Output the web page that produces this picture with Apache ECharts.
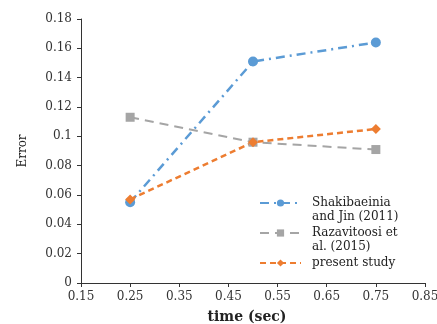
<!DOCTYPE html>
<html>
<head>
<meta charset="utf-8">
<script src="https://cdn.jsdelivr.net/npm/echarts@6/dist/echarts.min.js"></script>
<style>
  html, body { margin: 0; padding: 0; background: #fff; }
  #main { width: 437px; height: 324px; }
</style>
</head>
<body>
<div id="main"></div>
<script>
var timeSec = [0.25, 0.5, 0.75];
var shakibaeinia = [0.055, 0.151, 0.164];
var razavitoosi = [0.113, 0.096, 0.091];
var presentStudy = [0.057, 0.096, 0.105];

function pairs(xs, ys) {
  return xs.map(function (x, i) { return [x, ys[i]]; });
}

var serif = '"DejaVu Serif", "Liberation Serif", serif';

var chart = echarts.init(document.getElementById('main'));
var option = {
  animation: false,
  textStyle: { fontFamily: serif },
  grid: { left: 81, right: 12, top: 19, bottom: 41, outerBoundsMode: 'none' },
  legend: {
    orient: 'vertical',
    left: 259,
    top: 182,
    padding: 0,
    itemWidth: 41,
    itemHeight: 9,
    itemGap: -12,
    // blank lines keep the marker level with the first text line
    formatter: function (name) {
      return name.indexOf('\n') >= 0 ? '\n' + name : '\n' + name + '\n';
    },
    textStyle: {
      fontFamily: serif, fontSize: 12, color: '#222', lineHeight: 14,
      padding: [0, 0, 0, 6]
    },
    data: ['Shakibaeinia\nand Jin (2011)', 'Razavitoosi et\nal. (2015)', 'present study']
  },
  xAxis: {
    type: 'value',
    min: 0.15,
    max: 0.85,
    interval: 0.1,
    name: 'time (sec)',
    nameLocation: 'middle',
    nameGap: 27,
    nameTextStyle: { fontFamily: serif, fontSize: 14, fontWeight: 'bold', color: '#222', padding: [0, 12, 0, 0] },
    splitLine: { show: false },
    axisLine: { lineStyle: { color: '#333', width: 1 } },
    axisTick: { show: true, length: 4, lineStyle: { color: '#333' } },
    axisLabel: {
      color: '#333', fontSize: 12, margin: 8,
      formatter: function (v) { return (+v).toFixed(2); }
    }
  },
  yAxis: {
    type: 'value',
    min: 0,
    max: 0.18,
    interval: 0.02,
    name: 'Error',
    nameLocation: 'middle',
    nameGap: 52,
    nameTextStyle: { fontFamily: serif, fontSize: 12, color: '#222' },
    splitLine: { show: false },
    axisLine: { show: true, lineStyle: { color: '#333', width: 1 } },
    axisTick: { show: true, length: 4, lineStyle: { color: '#333' } },
    axisLabel: {
      color: '#333', fontSize: 12, margin: 9,
      formatter: function (v) { return String(+(+v).toFixed(2)); }
    }
  },
  series: [
    {
      name: 'Shakibaeinia\nand Jin (2011)',
      type: 'line',
      data: pairs(timeSec, shakibaeinia),
      symbol: 'circle',
      symbolSize: 10,
      itemStyle: { color: '#5b9bd5' },
      lineStyle: { color: '#5b9bd5', width: 2.5, type: [9, 5, 2, 5] }
    },
    {
      name: 'Razavitoosi et\nal. (2015)',
      type: 'line',
      data: pairs(timeSec, razavitoosi),
      symbol: 'rect',
      symbolSize: 9,
      itemStyle: { color: '#a5a5a5' },
      lineStyle: { color: '#a5a5a5', width: 2, type: [9, 6] }
    },
    {
      name: 'present study',
      type: 'line',
      data: pairs(timeSec, presentStudy),
      symbol: 'diamond',
      symbolSize: 10,
      itemStyle: { color: '#ed7d31' },
      lineStyle: { color: '#ed7d31', width: 2.5, type: [6, 4] }
    }
  ]
};
chart.setOption(option);
window.addEventListener('resize', function () {
  chart.resize();
});
</script>
</body>
</html>
